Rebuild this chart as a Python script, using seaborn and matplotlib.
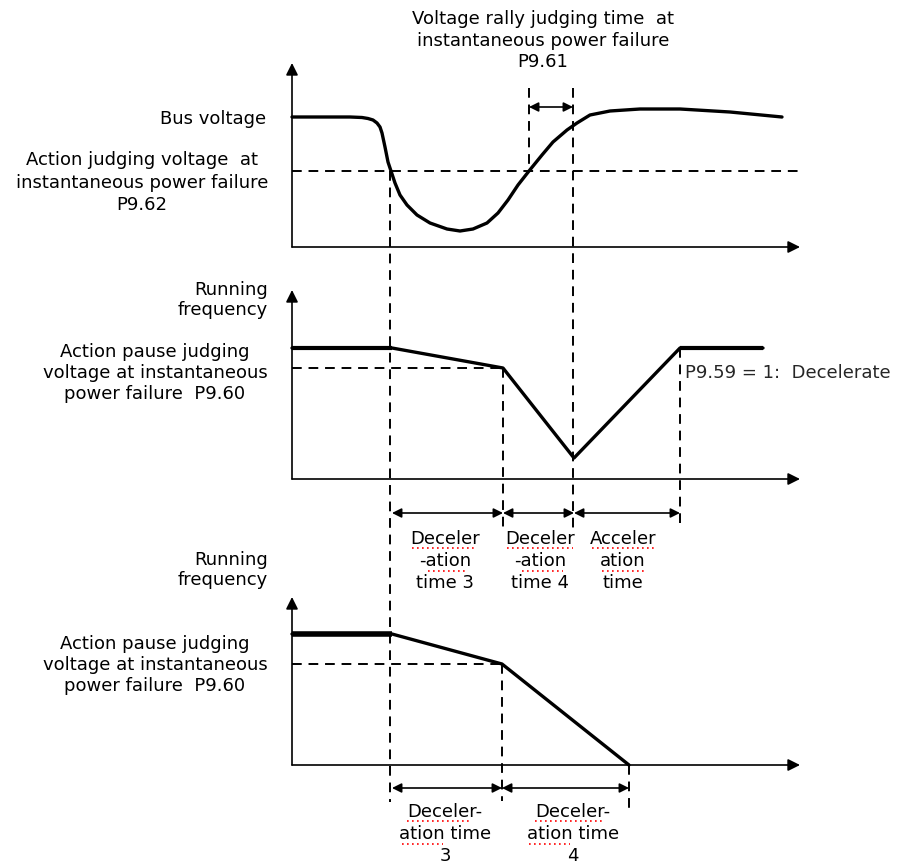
import pandas as pd
import matplotlib.pyplot as plt
import seaborn as sns

# Curve points (pixel coords, y grows downward)
bus_x = [292, 350, 362, 368, 373, 377, 380, 382, 385, 388, 391, 395, 400, 407,
         417, 430, 447, 460, 473, 487, 498, 508, 518, 529, 542, 553, 567, 577,
         590, 610, 640, 680, 730, 782]
bus_y = [117, 117, 117.5, 118.5, 120, 123, 127, 133, 147, 162, 171, 183, 195,
         205, 215, 223, 229, 231, 229, 223, 213, 200, 185, 171, 155, 142, 130,
         123, 115, 111, 109, 109, 112, 117]

freq1_x = [292, 392, 503, 574, 680, 763]
freq1_y = [348, 348, 368, 458, 348, 348]

freq2_x = [292, 392, 502, 629]
freq2_y = [634, 634, 664, 765]

# Axes origins (x0, y_axis_bottom, y_arrow_tip)
panels = [(292, 247, 63), (292, 479, 290), (292, 765, 597)]
x_arrow_end = 800

sns.set_style("white")
plt.rcParams['font.family'] = ['DejaVu Sans']

fig = plt.figure(figsize=(9.02, 8.65), dpi=100)
ax = fig.add_axes([0, 0, 1, 1])
ax.set_xlim(0, 902)
ax.set_ylim(865, 0)
ax.axis('off')

arrow_kw = dict(arrowstyle='-|>', color='black', lw=1.2, mutation_scale=18,
                shrinkA=0, shrinkB=0)
for x0, yb, yt in panels:
    ax.annotate('', xy=(x0, yt), xytext=(x0, yb), arrowprops=arrow_kw)
    ax.annotate('', xy=(x_arrow_end, yb), xytext=(x0, yb), arrowprops=arrow_kw)

curves = pd.concat([
    pd.DataFrame({'x': bus_x, 'y': bus_y, 'c': 'bus'}),
    pd.DataFrame({'x': freq1_x, 'y': freq1_y, 'c': 'f1'}),
    pd.DataFrame({'x': freq2_x, 'y': freq2_y, 'c': 'f2'}),
])
for name, g in curves.groupby('c'):
    sns.lineplot(data=g, x='x', y='y', sort=False, color='black', lw=2.4,
                 ax=ax, legend=False)
# thicker flat segments
ax.plot(freq2_x[:2], freq2_y[:2], color='black', lw=4, solid_capstyle='butt')
ax.plot(freq1_x[:2], freq1_y[:2], color='black', lw=3, solid_capstyle='butt')
ax.plot(freq1_x[-2:], freq1_y[-2:], color='black', lw=3, solid_capstyle='butt')

dash = dict(color='black', lw=1.4, ls=(0, (5, 3.5)))
# horizontal dashed
ax.plot([292, 800], [171, 171], **dash)
ax.plot([292, 503], [368, 368], **dash)
ax.plot([292, 502], [664, 664], **dash)
# vertical dashed
ax.plot([390, 390], [171, 802], **dash)
ax.plot([529, 529], [88, 171], **dash)
ax.plot([573, 573], [88, 530], **dash)
ax.plot([503, 503], [368, 530], **dash)
ax.plot([680, 680], [348, 528], **dash)
ax.plot([502, 502], [664, 801], **dash)
ax.plot([629, 629], [765, 808], **dash)

dbl = dict(arrowstyle='<|-|>', color='black', lw=1.2, mutation_scale=14,
           shrinkA=0, shrinkB=0)
for xa, xb, yy in [(529, 573, 107), (392, 503, 513), (503, 574, 513),
                   (574, 680, 513), (392, 502, 788), (502, 629, 788)]:
    ax.annotate('', xy=(xb, yy), xytext=(xa, yy), arrowprops=dbl)

fs = 13
def txt(x, y, s, ha='center'):
    ax.text(x, y, s, ha=ha, va='center', fontsize=fs, color='black')

txt(543, 19, "Voltage rally judging time  at")
txt(543, 41, "instantaneous power failure")
txt(543, 62, "P9.61")

txt(266, 119, "Bus voltage", ha='right')
txt(142, 160, "Action judging voltage  at")
txt(142, 183, "instantaneous power failure")
txt(142, 205, "P9.62")

for yoff in (0, 270):
    txt(268, 290 + yoff, "Running", ha='right')
    txt(268, 310 + yoff, "frequency", ha='right')
for yoff in (0, 292):
    txt(155, 352 + yoff, "Action pause judging")
    txt(155, 373 + yoff, "voltage at instantaneous")
    txt(155, 394 + yoff, "power failure  P9.60")

ax.text(685, 373, "P9.59 = 1:  Decelerate", ha='left', va='center', fontsize=fs)

labels2 = [(445, ["Deceler", "-ation", "time 3"]),
           (540, ["Deceler", "-ation", "time 4"]),
           (623, ["Acceler", "ation", "time"])]
for xc, lines in labels2:
    for i, s in enumerate(lines):
        txt(xc, 539 + 22 * i, s)

labels3 = [(445, ["Deceler-", "ation time", "3"]),
           (573, ["Deceler-", "ation time", "4"])]
for xc, lines in labels3:
    for i, s in enumerate(lines):
        txt(xc, 812 + 22 * i, s)

# red dotted spell-check underlines
red = dict(color='red', lw=1.2, ls=(0, (1, 2)))
for xa, xb, yy in [(412, 477, 548), (428, 468, 571), (507, 573, 548),
                   (522, 563, 571), (592, 655, 548), (602, 645, 571),
                   (407, 472, 821), (402, 443, 844), (535, 602, 821),
                   (529, 570, 844)]:
    ax.plot([xa, xb], [yy, yy], **red)

fig.savefig("out.png", dpi=100, facecolor='white')
